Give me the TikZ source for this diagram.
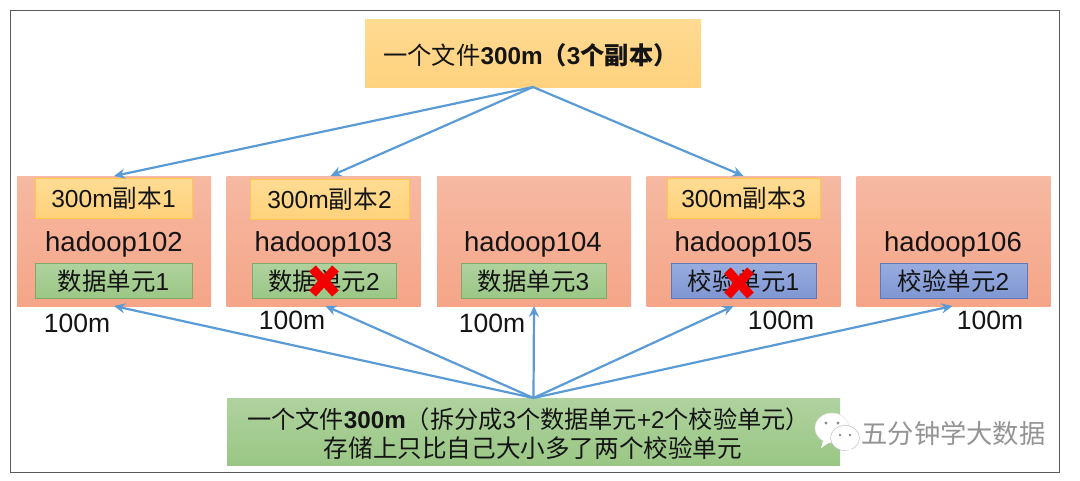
\documentclass[tikz,border=0pt]{standalone}
\usepackage{fontspec}
\setmainfont{Liberation Sans}
\newfontfamily\cjk{Noto Sans CJK SC}
\usetikzlibrary{arrows.meta}
\definecolor{framec}{HTML}{5A5A5A}
\definecolor{arrowc}{HTML}{5B9BD5}
\definecolor{oa}{HTML}{FFDA92}\definecolor{ob}{HTML}{FFD27E}
\definecolor{sa}{HTML}{F6B9A2}\definecolor{sb}{HTML}{F5A588}
\definecolor{ra}{HTML}{FFDC94}\definecolor{rb}{HTML}{FFD27C}\definecolor{rd}{HTML}{FFC84A}
\definecolor{ga}{HTML}{AFD29E}\definecolor{gb}{HTML}{9AC785}\definecolor{gd}{HTML}{7FA86C}
\definecolor{ba}{HTML}{98ACDE}\definecolor{bb}{HTML}{7E96D2}\definecolor{bd}{HTML}{5F78B8}
\tikzset{
  x=1pt,y=-1pt,
  boxbase/.style={anchor=center,inner sep=0pt,outer sep=0pt,align=center,text=black!92},
  orangebig/.style={boxbase,top color=oa,bottom color=ob,draw=none},
  server/.style={boxbase,top color=sa,bottom color=sb,minimum width=194pt,minimum height=130pt},
  replica/.style={boxbase,top color=ra,bottom color=rb,draw=rd,line width=.6pt,minimum height=40pt,font=\fontsize{24.6}{28}\selectfont},
  greenbox/.style={boxbase,top color=ga,bottom color=gb,draw=gd,line width=.6pt,minimum height=35pt,font=\fontsize{24.4}{28}\selectfont},
  bluebox/.style={boxbase,top color=ba,bottom color=bb,draw=bd,line width=.6pt,minimum height=35pt,font=\fontsize{24.4}{28}\selectfont},
  host/.style={boxbase,font=\fontsize{27.5}{30}\selectfont},
  sizelabel/.style={boxbase,font=\fontsize{26.5}{30}\selectfont},
  link/.style={draw=arrowc,line width=2.2pt,-{Stealth[length=11pt,width=10pt]}},
  cross/.style={draw=red!95!black,line width=9pt},
}
\begin{document}
\begin{tikzpicture}
\useasboundingbox (0,0) rectangle (1080,480);
\fill[white] (0,0) rectangle (1080,480);
\draw[framec,line width=1.3pt] (10.5,10.5) rectangle (1059.5,472.5);

\node[orangebig,minimum width=336pt,minimum height=68pt] (top) at (533,53) {};
\node[boxbase,font=\fontsize{24.3}{28}\selectfont] (toptext) at (530.5,55) {{\cjk 一个文件}\textbf{300m}{\cjk\bfseries （}\textbf{3}{\cjk\bfseries 个副本）}};

\node[server] (s1) at (114,241) {};
\node[server] (s2) at (323.5,241) {};
\node[server] (s3) at (534,241) {};
\node[server] (s4) at (743.5,241) {};
\node[server] (s5) at (953.5,241) {};

\node[replica,minimum width=157pt] (r1) at (113.5,198) {300m{\cjk 副本}1};
\node[replica,minimum width=159pt] (r2) at (329.5,199) {300m{\cjk 副本}2};
\node[replica,minimum width=153pt] (r3) at (743.5,198) {300m{\cjk 副本}3};

\node[host] (h1) at (114,244) {hadoop102};
\node[host] (h2) at (323.5,244) {hadoop103};
\node[host] (h3) at (533,244) {hadoop104};
\node[host] (h4) at (743.5,244) {hadoop105};
\node[host] (h5) at (953,244) {hadoop106};

\node[greenbox,minimum width=157pt] (d1) at (113.5,281) {{\cjk 数据单元}1};
\node[greenbox,minimum width=144pt] (d2) at (324,281) {{\cjk 数据单元}2};
\node[greenbox,minimum width=145pt] (d3) at (533.5,281) {{\cjk 数据单元}3};
\node[bluebox,minimum width=145pt] (c1) at (743.5,281) {{\cjk 校验单元}1};
\node[bluebox,minimum width=147pt] (c2) at (953.5,281) {{\cjk 校验单元}2};

\draw[cross] (312.5,268.5) -- (335.5,293.5);
\draw[cross] (335.5,268.5) -- (312.5,293.5);
\draw[cross] (727.5,270.5) -- (750.5,295.5);
\draw[cross] (750.5,270.5) -- (727.5,295.5);

\node[sizelabel] (m1) at (77,323) {100m};
\node[sizelabel] (m2) at (292,320) {100m};
\node[sizelabel] (m3) at (492,323) {100m};
\node[sizelabel] (m4) at (781,320) {100m};
\node[sizelabel] (m5) at (990,320) {100m};

\node[boxbase,top color=ga,bottom color=gb,minimum width=613pt,minimum height=67pt] (bot) at (533.5,431.5) {};
\node[boxbase,font=\fontsize{24.2}{30}\selectfont] (botone) at (528.5,419) {{\cjk 一个文件}\textbf{300m}{\cjk （拆分成}3{\cjk 个数据单元}+2{\cjk 个校验单元）}};
\node[boxbase,font=\fontsize{24.6}{30}\selectfont] (bottwo) at (533,448) {\cjk 存储上只比自己大小多了两个校验单元};

\draw[link] (top.south) -- (s1.north);
\draw[link] (top.south) -- ([xshift=7pt]s2.north);
\draw[link] (top.south) -- (s4.north);
\draw[link] (bot.north) -- (s1.south);
\draw[link] (bot.north) -- ([xshift=2pt]s2.south);
\draw[link] (bot.north) -- (s3.south);
\draw[link] (bot.north) -- ([xshift=-10pt]s4.south);
\draw[link] (bot.north) -- ([xshift=-1pt]s5.south);

\fill[white,draw=black!12,line width=.5pt] (832,428) ellipse (17 and 15);
\fill[white] (823,441) -- (821,448) -- (830,442) -- cycle;
\fill[black!45] (826,423) circle (1.6) (838,423) circle (1.6);
\fill[white,draw=black!25,line width=.5pt] (845,438) ellipse (14.5 and 12.5);
\fill[white] (851,449) -- (853,452) -- (846,450) -- cycle;
\fill[black!45] (840,435) circle (1.3) (850,435) circle (1.3);
\node[boxbase,text=black!42,font=\fontsize{26.3}{30}\selectfont] (wm) at (953.5,433) {\cjk 五分钟学大数据};
\end{tikzpicture}
\end{document}
